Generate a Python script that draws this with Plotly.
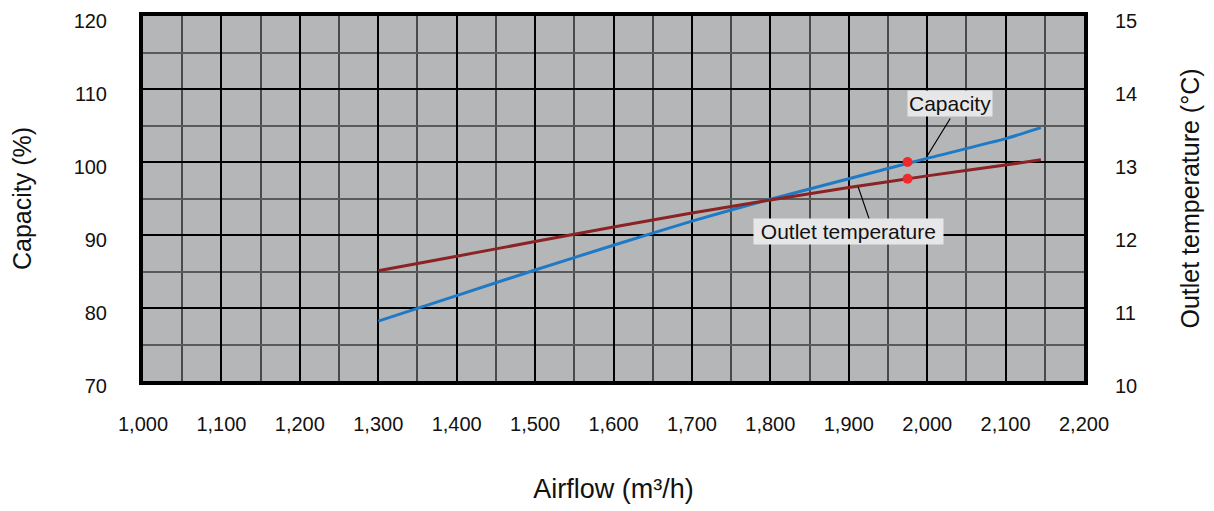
import plotly.graph_objects as go

# Data
airflow = [1300, 1400, 1500, 1600, 1700, 1800, 1900, 2000, 2100, 2145]
capacity = [78.2, 81.7, 85.2, 88.6, 91.9, 94.9, 97.7, 100.5, 103.2, 104.7]
outlet_temp = [11.51, 11.71, 11.91, 12.11, 12.30, 12.48, 12.65, 12.81, 12.96, 13.03]

point_airflow = [1975]
point_capacity = [100.0]
point_outlet = [12.77]

x_ticks = list(range(1000, 2201, 100))
x_ticklabels = [f"{v:,}" for v in x_ticks]

FONT = "Liberation Sans, Arial, sans-serif"

fig = go.Figure()
fig.add_trace(go.Scatter(x=airflow, y=capacity, mode="lines",
                         line=dict(color="#1f7ac6", width=3, shape="spline", smoothing=0.6),
                         name="Capacity", yaxis="y"))
fig.add_trace(go.Scatter(x=airflow, y=outlet_temp, mode="lines",
                         line=dict(color="#8b2325", width=3, shape="spline", smoothing=0.6),
                         name="Outlet temperature", yaxis="y2"))
fig.add_trace(go.Scatter(x=point_airflow, y=point_capacity, mode="markers",
                         marker=dict(color="#ee2a2e", size=10), yaxis="y"))
fig.add_trace(go.Scatter(x=point_airflow, y=point_outlet, mode="markers",
                         marker=dict(color="#ee2a2e", size=10), yaxis="y2"))

fig.update_layout(
    width=1206, height=503,
    margin=dict(l=135, r=130, t=8, b=130),
    paper_bgcolor="white",
    plot_bgcolor="#b5b6b8",
    showlegend=False,
    font=dict(family=FONT, size=20, color="#111"),
    xaxis=dict(
        range=[1000, 2200], tickvals=x_ticks, ticktext=x_ticklabels,
        showgrid=True, gridcolor="#000", gridwidth=2,
        minor=dict(dtick=50, tick0=1000, showgrid=True, gridcolor="#4a4a4a", gridwidth=1.5),
        showline=True, linecolor="#000", linewidth=4, mirror=True,
        zeroline=False, ticks="", ticklabelstandoff=22, automargin=False,
        title=dict(text="Airflow (m³/h)", font=dict(size=27), standoff=46),
    ),
    yaxis=dict(
        range=[70, 120], dtick=10, tick0=70,
        showgrid=True, gridcolor="#000", gridwidth=1.5,
        minor=dict(dtick=5, tick0=70, showgrid=True, gridcolor="#5a5a5a", gridwidth=1.5),
        showline=True, linecolor="#000", linewidth=4, mirror=True,
        zeroline=False, ticks="", ticklabelstandoff=28, automargin=False,
        ticklabeloverflow="allow", ticklabelshift=5,
        title=dict(text="Capacity (%)", font=dict(size=25), standoff=37),
    ),
    yaxis2=dict(
        range=[10, 15], dtick=1, tick0=10, overlaying="y", side="right",
        showgrid=False, zeroline=False, showline=False, ticks="",
        ticklabelstandoff=30, automargin=False, ticklabeloverflow="allow",
        ticklabelshift=5,
        title=dict(text="Outlet temperature (°C)", font=dict(size=25), standoff=45),
    ),
)

# Leader lines
fig.add_annotation(x=2000, y=100.82, xref="x", yref="y", text="", showarrow=True,
                   arrowhead=0, arrowwidth=1.2, arrowcolor="#000", ax=24, ay=-39)
fig.add_annotation(x=1912, y=12.66, xref="x", yref="y2", text="", showarrow=True,
                   arrowhead=0, arrowwidth=1.2, arrowcolor="#000", ax=13, ay=38)

# Labels
fig.add_annotation(x=2029, y=107.95, xref="x", yref="y", text="Capacity",
                   showarrow=False, bgcolor="#e7e7e8", borderpad=1,
                   font=dict(size=21, color="#111"))
fig.add_annotation(x=1900, y=90.45, xref="x", yref="y", text=" Outlet temperature ",
                   showarrow=False, bgcolor="#e7e7e8", borderpad=1,
                   font=dict(size=21, color="#111"))

fig.write_html("out.html")
